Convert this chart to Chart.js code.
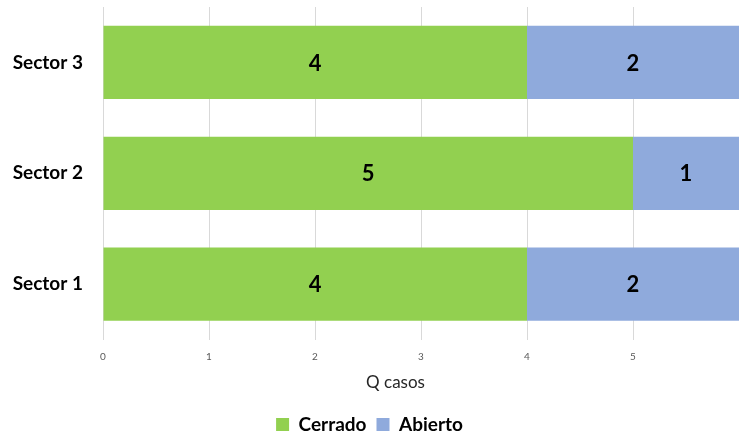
<!DOCTYPE html>
<html>
<head>
<meta charset="utf-8">
<script src="https://cdn.jsdelivr.net/npm/chart.js"></script>
<style>
  html, body { margin: 0; padding: 0; background: #fff; }
  #wrap { width: 739px; height: 439px; position: relative; }
</style>
</head>
<body>
<div id="wrap"><canvas id="c"></canvas></div>
<script>
// Données du graphique
const sectores = ['Sector 1', 'Sector 2', 'Sector 3'];
const cerrado = [4, 5, 4];
const abierto = [2, 1, 2];
const ticksX = [0, 1, 2, 3, 4, 5];
const tituloX = 'Q casos';

const FONT = 'Lato, "Open Sans", sans-serif';

// Etiquetas de valores dentro de cada segmento
const etiquetasPlugin = {
    id: 'etiquetas',
    afterDatasetsDraw(chart) {
        const ctx = chart.ctx;
        ctx.save();
        ctx.font = 'bold 22px ' + FONT;
        ctx.fillStyle = '#000';
        ctx.textAlign = 'center';
        ctx.textBaseline = 'middle';
        chart.data.datasets.forEach((ds, i) => {
            chart.getDatasetMeta(i).data.forEach((bar, j) => {
                const p = bar.getCenterPoint();
                ctx.fillText(ds.data[j], p.x, p.y + 1);
            });
        });
        ctx.restore();
    }
};

// Título del eje X (un poco desplazado como en Excel)
const tituloPlugin = {
    id: 'tituloX',
    afterDraw(chart) {
        const ctx = chart.ctx;
        const sx = chart.scales.x;
        ctx.save();
        ctx.font = '17px ' + FONT;
        ctx.fillStyle = '#262626';
        ctx.textAlign = 'center';
        ctx.textBaseline = 'middle';
        ctx.fillText(tituloX, chart.width / 2 + 26, sx.top + 43);
        ctx.restore();
    }
};

// Leyenda más compacta (altura fija)
const leyendaPlugin = {
    id: 'leyendaAltura',
    beforeInit(chart) {
        const fitOrig = chart.legend.fit;
        chart.legend.fit = function () {
            fitOrig.call(this);
            this.height = 34;
        };
    }
};

new Chart(document.getElementById('c').getContext('2d'), {
    type: 'bar',
    data: {
        labels: sectores,
        datasets: [
            { label: 'Cerrado', data: cerrado, backgroundColor: '#92D050', borderWidth: 0 },
            { label: 'Abierto', data: abierto, backgroundColor: '#8FAADC', borderWidth: 0 }
        ]
    },
    options: {
        indexAxis: 'y',
        responsive: true,
        maintainAspectRatio: false,
        animation: false,
        categoryPercentage: 1,
        barPercentage: 0.66,
        layout: { padding: { top: 7, right: 0, left: 0, bottom: 0 } },
        plugins: {
            legend: {
                position: 'bottom',
                labels: {
                    boxWidth: 13,
                    boxHeight: 13,
                    color: '#000',
                    padding: 10,
                    font: { family: FONT, size: 19, weight: 'bold' }
                }
            },
            tooltip: { enabled: false }
        },
        scales: {
            x: {
                stacked: true,
                min: 0,
                max: 6,
                grid: { color: '#d9d9d9', drawTicks: false },
                border: { display: false },
                afterBuildTicks: (scale) => {
                    scale.ticks = ticksX.concat([6]).map(v => ({ value: v }));
                },
                afterFit: (scale) => {
                    scale.paddingLeft = 0;
                    scale.paddingRight = 0;
                },
                ticks: {
                    padding: 11,
                    maxRotation: 0,
                    color: '#595959',
                    font: { family: FONT, size: 10 },
                    callback: (v) => ticksX.includes(v) ? String(v) : ''
                },
                title: {
                    display: true,
                    text: tituloX,
                    color: 'rgba(0,0,0,0)',
                    font: { family: FONT, size: 17 },
                    padding: { top: 11, bottom: 0 }
                }
            },
            y: {
                stacked: true,
                reverse: true,
                grid: { display: false, drawTicks: false },
                border: { display: false },
                afterFit: (scale) => {
                    scale.width = 103;
                    scale.paddingTop = 0;
                    scale.paddingBottom = 0;
                },
                ticks: {
                    padding: 20,
                    color: '#000',
                    font: { family: FONT, size: 19, weight: 'bold' }
                }
            }
        }
    },
    plugins: [etiquetasPlugin, tituloPlugin, leyendaPlugin]
});
</script>
</body>
</html>
